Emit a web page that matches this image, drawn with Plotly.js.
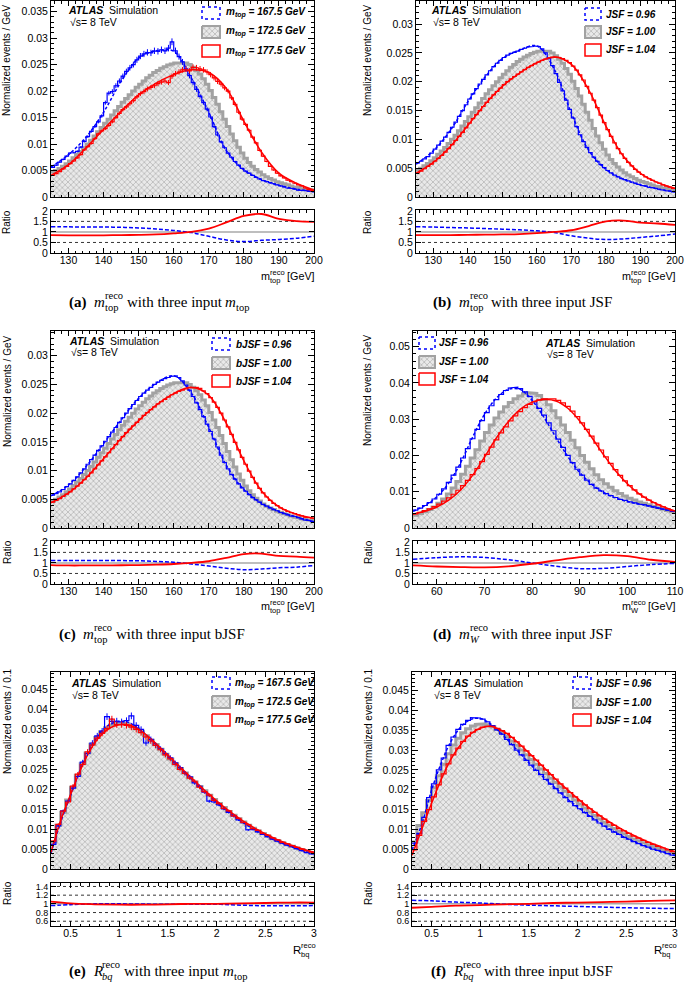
<!DOCTYPE html>
<html><head><meta charset="utf-8">
<script src="https://cdn.plot.ly/plotly-3.0.1.min.js"></script>
<style>html,body{margin:0;padding:0;background:#fff}#chart{width:685px;height:983px}</style>
</head><body><div id="chart"></div>
<script>
// ================= DATA =================
// binning of the histograms
const MTOP_LO = 125, MTOP_W = 1;     // m_top^reco [GeV], 1 GeV bins
const MW_LO = 55, MW_W = 1;          // m_W^reco [GeV], 1 GeV bins
const RBQ_LO = 0.3, RBQ_W = 0.05;    // R_bq^reco

// nominal sample (m_top = 172.5 GeV, JSF = bJSF = 1.00), m_top^reco
const mtopNominal = [
.0047,.0050,.0054,.0058,.0063,.0068,.0074,.0080,.0086,.0093,
.0100,.0107,.0115,.0123,.0131,.0139,.0147,.0155,.0163,.0171,
.0179,.0186,.0193,.0200,.0207,.0213,.0219,.0225,.0230,.0235,
.0239,.0243,.0246,.0249,.0251,.0253,.0254,.0254,.0253,.0250,
.0245,.0239,.0232,.0223,.0213,.0201,.0188,.0175,.0161,.0147,
.0133,.0119,.0106,.0094,.0083,.0073,.0065,.0058,.0052,.0047,
.0042,.0038,.0035,.0032,.0029,.0027,.0025,.0023,.0021,.0019,
.0018,.0016,.0015,.0014,.0013];
// (a) m_top = 167.5 / 177.5 GeV
const mtopA_167 = [
.0056,.0060,.0066,.0071,.0077,.0083,.0084,.0086,.0094,.0105,
.0114,.0124,.0133,.0142,.0153,.0178,.0196,.0199,.0210,.0219,
.0228,.0237,.0244,.0250,.0259,.0266,.0270,.0273,.0272,.0276,
.0275,.0278,.0276,.0281,.0293,.0276,.0265,.0255,.0242,.0229,
.0216,.0203,.0190,.0178,.0166,.0151,.0133,.0117,.0104,.0093,
.0083,.0075,.0067,.0060,.0054,.0049,.0045,.0041,.0037,.0034,
.0031,.0029,.0027,.0025,.0023,.0021,.0019,.0017,.0016,.0015,
.0013,.0012,.0012,.0011,.0010];
const mtopA_177 = [
.0041,.0044,.0048,.0053,.0058,.0063,.0068,.0074,.0080,.0089,
.0095,.0101,.0110,.0119,.0125,.0129,.0135,.0142,.0150,.0158,
.0165,.0170,.0176,.0182,.0189,.0195,.0199,.0204,.0207,.0210,
.0214,.0217,.0219,.0216,.0228,.0233,.0236,.0240,.0241,.0238,
.0245,.0244,.0242,.0240,.0236,.0231,.0225,.0218,.0213,.0206,
.0200,.0187,.0175,.0160,.0147,.0137,.0126,.0113,.0102,.0088,
.0077,.0067,.0058,.0051,.0045,.0040,.0036,.0032,.0029,.0026,
.0023,.0021,.0017,.0014,.0012];
// (b) JSF = 0.96 / 1.04
const mtopB_096 = [
.0059,.0062,.0066,.0070,.0076,.0083,.0090,.0097,.0104,.0112,
.0121,.0130,.0140,.0150,.0160,.0170,.0179,.0188,.0196,.0204,
.0212,.0219,.0226,.0232,.0237,.0242,.0246,.0249,.0251,.0253,
.0256,.0258,.0260,.0261,.0262,.0261,.0257,.0250,.0240,.0228,
.0214,.0199,.0184,.0168,.0152,.0137,.0122,.0108,.0096,.0086,
.0077,.0069,.0062,.0056,.0051,.0046,.0042,.0038,.0035,.0032,
.0030,.0028,.0026,.0024,.0022,.0020,.0019,.0017,.0016,.0015,
.0013,.0012,.0011,.0010,.0009];
const mtopB_104 = [
.0042,.0045,.0049,.0053,.0057,.0062,.0067,.0072,.0078,.0084,
.0091,.0098,.0105,.0112,.0120,.0128,.0136,.0143,.0150,.0157,
.0164,.0171,.0177,.0183,.0189,.0195,.0200,.0205,.0209,.0213,
.0217,.0221,.0225,.0228,.0231,.0234,.0237,.0239,.0241,.0242,
.0243,.0242,.0240,.0237,.0233,.0227,.0220,.0212,.0203,.0192,
.0180,.0168,.0155,.0142,.0129,.0117,.0105,.0094,.0084,.0075,
.0067,.0060,.0054,.0048,.0043,.0039,.0035,.0032,.0029,.0026,
.0024,.0021,.0019,.0017,.0015];
// (c) bJSF = 0.96 / 1.04
const mtopC_096 = [
.0057,.0060,.0063,.0067,.0072,.0077,.0083,.0089,.0096,.0103,
.0111,.0119,.0127,.0135,.0143,.0151,.0159,.0167,.0175,.0184,
.0192,.0200,.0208,.0215,.0222,.0229,.0235,.0240,.0245,.0250,
.0254,.0257,.0260,.0262,.0264,.0265,.0262,.0256,.0249,.0240,
.0229,.0218,.0206,.0194,.0181,.0168,.0155,.0141,.0127,.0114,
.0103,.0093,.0085,.0077,.0070,.0064,.0058,.0053,.0049,.0045,
.0041,.0038,.0035,.0032,.0030,.0027,.0025,.0023,.0021,.0020,
.0018,.0016,.0014,.0013,.0011];
const mtopC_104 = [
.0045,.0048,.0051,.0055,.0059,.0063,.0068,.0073,.0078,.0084,
.0090,.0096,.0103,.0110,.0117,.0124,.0131,.0138,.0145,.0152,
.0159,.0166,.0172,.0178,.0184,.0190,.0196,.0201,.0206,.0211,
.0216,.0220,.0224,.0228,.0232,.0235,.0238,.0240,.0242,.0244,
.0245,.0245,.0243,.0239,.0234,.0227,.0219,.0210,.0200,.0188,
.0176,.0163,.0149,.0136,.0123,.0111,.0099,.0088,.0078,.0069,
.0061,.0054,.0048,.0043,.0039,.0035,.0032,.0029,.0027,.0025,
.0023,.0021,.0019,.0018,.0017];
// (d) m_W^reco, JSF = 1.00 / 0.96 / 1.04
const mwNominal = [
.0035,.0040,.0045,.0051,.0058,.0068,.0080,.0094,.0110,.0128,
.0148,.0170,.0193,.0216,.0240,.0263,.0284,.0303,.0320,.0334,
.0346,.0356,.0364,.0370,.0373,.0371,.0365,.0354,.0340,.0323,
.0304,.0284,.0263,.0242,.0221,.0200,.0181,.0163,.0147,.0133,
.0122,.0112,.0103,.0095,.0088,.0082,.0077,.0072,.0068,.0064,
.0060,.0056,.0052,.0048,.0045];
const mwD_096 = [
.0049,.0055,.0062,.0070,.0080,.0093,.0108,.0126,.0146,.0168,
.0193,.0219,.0246,.0272,.0296,.0318,.0337,.0354,.0368,.0379,
.0386,.0388,.0384,.0375,.0363,.0348,.0330,.0311,.0290,.0268,
.0245,.0222,.0200,.0180,.0162,.0146,.0132,.0120,.0110,.0102,
.0095,.0089,.0084,.0079,.0076,.0072,.0069,.0066,.0064,.0061,
.0058,.0055,.0052,.0049,.0046];
const mwD_104 = [
.0039,.0043,.0048,.0053,.0059,.0066,.0074,.0083,.0093,.0104,
.0117,.0131,.0147,.0164,.0183,.0203,.0223,.0243,.0262,.0279,
.0295,.0309,.0321,.0332,.0341,.0348,.0353,.0356,.0357,.0356,
.0352,.0345,.0335,.0322,.0307,.0290,.0272,.0253,.0234,.0215,
.0196,.0178,.0161,.0145,.0130,.0117,.0105,.0094,.0085,.0077,
.0070,.0064,.0058,.0053,.0048];
// (e),(f) R_bq^reco
const rbqNominal = [
.0068,.0110,.0142,.0173,.0205,.0235,.0264,.0291,.0313,.0330,
.0344,.0354,.0361,.0365,.0366,.0364,.0359,.0352,.0344,.0334,
.0323,.0312,.0300,.0288,.0276,.0264,.0252,.0241,.0229,.0218,
.0207,.0196,.0185,.0174,.0164,.0154,.0144,.0135,.0126,.0118,
.0110,.0102,.0095,.0089,.0082,.0076,.0071,.0066,.0061,.0057,
.0052,.0048,.0045,.0041];
const rbqE_167 = [
.0062,.0108,.0146,.0170,.0203,.0232,.0268,.0290,.0316,.0334,
.0346,.0382,.0370,.0371,.0369,.0372,.0384,.0360,.0350,.0316,
.0325,.0310,.0301,.0289,.0279,.0266,.0254,.0240,.0231,.0216,
.0207,.0193,.0170,.0168,.0161,.0151,.0142,.0133,.0123,.0116,
.0098,.0099,.0093,.0087,.0081,.0075,.0070,.0065,.0060,.0056,
.0051,.0046,.0041,.0038];
const rbqE_177 = [
.0070,.0112,.0145,.0168,.0208,.0238,.0262,.0294,.0311,.0328,
.0340,.0352,.0376,.0362,.0362,.0360,.0356,.0350,.0342,.0331,
.0321,.0310,.0299,.0286,.0276,.0262,.0250,.0240,.0228,.0220,
.0205,.0194,.0185,.0172,.0164,.0152,.0146,.0133,.0127,.0117,
.0111,.0101,.0097,.0089,.0085,.0078,.0073,.0067,.0063,.0058,
.0054,.0050,.0046,.0042];
const rbqF_096 = [
.0065,.0090,.0130,.0180,.0215,.0250,.0280,.0312,.0333,.0352,
.0365,.0375,.0382,.0381,.0378,.0371,.0362,.0351,.0340,.0327,
.0314,.0300,.0288,.0274,.0262,.0249,.0238,.0226,.0214,.0203,
.0192,.0180,.0170,.0160,.0152,.0142,.0133,.0124,.0116,.0108,
.0100,.0093,.0087,.0080,.0075,.0069,.0064,.0059,.0055,.0050,
.0047,.0043,.0039,.0035];
const rbqF_104 = [
.0048,.0085,.0120,.0150,.0182,.0212,.0240,.0265,.0288,.0305,
.0322,.0335,.0345,.0352,.0358,.0360,.0360,.0355,.0349,.0342,
.0332,.0321,.0310,.0298,.0286,.0275,.0262,.0250,.0238,.0227,
.0215,.0204,.0193,.0182,.0172,.0162,.0152,.0143,.0134,.0126,
.0117,.0110,.0102,.0096,.0090,.0083,.0078,.0072,.0067,.0062,
.0057,.0053,.0048,.0044];

// fitted templates
const mtopGrid = [125,130,135,140,145,150,155,160,165,170,175,180,185,190,195,200];
const fitA_167 = [.0057,.0080,.0113,.0160,.0218,.0262,.0276,.0275,.0225,.0160,.0088,.0051,.0033,.0022,.0015,.0010];
const fitA_177 = [.0041,.0061,.0093,.0128,.0162,.0193,.0215,.0231,.0240,.0235,.0205,.0143,.0085,.0045,.0026,.0013];
const fitB_096 = [.0057,.0080,.0116,.0165,.0208,.0240,.0255,.0262,.0222,.0145,.0081,.0048,.0031,.0021,.0014,.0009];
const fitB_104 = [.0041,.0060,.0088,.0124,.0161,.0192,.0215,.0233,.0243,.0230,.0186,.0123,.0071,.0041,.0025,.0015];
const fitC_096 = [.0056,.0075,.0107,.0147,.0188,.0226,.0252,.0265,.0235,.0175,.0109,.0067,.0043,.0029,.0019,.0011];
const fitC_104 = [.0044,.0061,.0087,.0121,.0156,.0187,.0214,.0234,.0245,.0231,.0182,.0117,.0065,.0037,.0024,.0017];
const mwFitGrid = [55,57.5,60,62.5,65,67.5,70,72.5,75,77.5,80,82.5,85,87.5,90,92.5,95,97.5,100,102.5,105,107.5,110];
const fitD_096 = [.0046,.0062,.0086,.0124,.0180,.0250,.0313,.0358,.0382,.0382,.0352,.0305,.0250,.0197,.0153,.0121,.0098,.0083,.0073,.0066,.0059,.0052,.0045];
const fitD_104 = [.0038,.0046,.0058,.0077,.0105,.0145,.0195,.0248,.0293,.0327,.0347,.0354,.0350,.0330,.0295,.0250,.0202,.0158,.0122,.0094,.0074,.0059,.0047];
const rbqFitGrid = [0.3,0.4,0.5,0.6,0.7,0.8,0.9,1.0,1.1,1.2,1.3,1.4,1.5,1.6,1.7,1.8,1.9,2.0,2.1,2.2,2.3,2.4,2.5,2.6,2.7,2.8,2.9,3.0];
const fitE_167 = [.0040,.0118,.0184,.0249,.0302,.0340,.0362,.0370,.0367,.0352,.0331,.0307,.0283,.0259,.0235,.0211,.0189,.0167,.0147,.0129,.0112,.0097,.0084,.0072,.0062,.0053,.0045,.0038];
const fitE_177 = [.0042,.0122,.0186,.0247,.0297,.0332,.0353,.0362,.0361,.0350,.0332,.0309,.0286,.0262,.0238,.0215,.0192,.0171,.0151,.0133,.0116,.0101,.0088,.0076,.0066,.0057,.0049,.0042];
const fitF_096 = [.0048,.0112,.0198,.0267,.0322,.0358,.0377,.0380,.0367,.0346,.0321,.0294,.0268,.0243,.0220,.0198,.0176,.0156,.0138,.0121,.0105,.0091,.0078,.0067,.0057,.0048,.0041,.0034];
const fitF_104 = [.0035,.0100,.0165,.0226,.0277,.0314,.0340,.0355,.0360,.0352,.0337,.0316,.0293,.0269,.0245,.0221,.0199,.0178,.0158,.0140,.0123,.0108,.0094,.0082,.0071,.0061,.0052,.0044];

// ratios to the nominal template
const ratioA_167 = [1.25,1.24,1.23,1.23,1.22,1.19,1.14,1.07,0.97,0.79,0.62,0.54,0.60,0.64,0.70,0.80];
const ratioA_177 = [0.85,0.84,0.84,0.84,0.85,0.86,0.88,0.93,1.00,1.16,1.45,1.76,1.85,1.62,1.51,1.48];
const ratioB_096 = [1.25,1.23,1.21,1.19,1.16,1.13,1.10,1.05,0.97,0.82,0.70,0.64,0.67,0.74,0.81,0.90];
const ratioB_104 = [0.85,0.85,0.85,0.86,0.87,0.88,0.90,0.94,1.00,1.08,1.28,1.50,1.54,1.44,1.40,1.33];
const ratioC_096 = [1.12,1.12,1.12,1.12,1.11,1.10,1.07,1.03,0.95,0.85,0.75,0.68,0.71,0.77,0.80,0.88];
const ratioC_104 = [0.90,0.88,0.88,0.88,0.89,0.90,0.92,0.95,1.00,1.08,1.24,1.42,1.44,1.33,1.30,1.25];
const mwRatioGrid = [55,60,65,70,75,80,85,90,95,100,105,110];
const ratioD_096 = [1.17,1.25,1.29,1.26,1.15,1.00,0.84,0.73,0.74,0.83,0.92,0.98];
const ratioD_104 = [0.88,0.83,0.80,0.79,0.84,0.96,1.12,1.27,1.37,1.32,1.15,1.05];
const rbqRatioGrid = [0.3,0.5,0.75,1.0,1.25,1.5,1.75,2.0,2.25,2.5,2.75,3.0];
const ratioE_167 = [0.96,0.98,1.00,1.00,0.995,0.99,0.99,0.99,0.97,0.955,0.955,0.96];
const ratioE_177 = [1.05,1.01,0.99,0.98,0.98,0.99,1.00,1.00,1.01,1.02,1.03,1.03];
const ratioF_096 = [1.08,1.07,1.04,1.02,0.99,0.97,0.955,0.94,0.925,0.91,0.90,0.89];
const ratioF_104 = [0.91,0.93,0.96,0.97,0.99,1.00,1.02,1.03,1.04,1.05,1.07,1.08];

// legend labels
const labelsMtop = ['m<sub>top</sub> = 167.5 GeV','m<sub>top</sub> = 172.5 GeV','m<sub>top</sub> = 177.5 GeV'];
const labelsJSF  = ['JSF = 0.96','JSF = 1.00','JSF = 1.04'];
const labelsBJSF = ['bJSF = 0.96','bJSF = 1.00','bJSF = 1.04'];

// ================= STYLE / LAYOUT =================
const W = 685, H = 983;
const F = "'Liberation Sans', Arial, Helvetica, sans-serif";
const FS = "'Liberation Serif', 'Times New Roman', serif";
const BLUE = '#0000ff', RED = '#ff0000', GRAY = '#a2a2a2';
const px = v => v / W, py = v => 1 - v / H;
const PATTERN = {shape:'x', size:4, solidity:0.28, fgcolor:'#a8a8a8', bgcolor:'#e9e9e9'};

const panels = [
 {x:[51,314], y:[1,197], ry:[210,253], xr:[125,200], yr:[0,0.037], rr:[0,2.04], rfs:10.5,
  lo:MTOP_LO, w:MTOP_W, nom:mtopNominal, sLo:mtopA_167, sHi:mtopA_177,
  fx:mtopGrid, fLo:fitA_167, fHi:fitA_177, rx:mtopGrid, rLo:ratioA_167, rHi:ratioA_177,
  err:true, xd:10, xm:2, yd:0.005, ym:0.001, rt:[0,0.5,1,1.5,2], rg:[0.5,1.5],
  atlas:[67,10], sq:[69,22], leg:{bx:[202,220], tx:225, ys:[13,32,51]}, labels:labelsMtop,
  yt:[7,61,'Normalized events / GeV'], rtl:[7,222], xt:{r:314,y:276,kind:'mtop'},
  cap:{x:68,y:302,letter:'a',kind:'mtop',tail:'mtop'}},
 {x:[416,675], y:[1,197], ry:[210,253], xr:[125,200], yr:[0,0.034], rr:[0,2.04], rfs:10.5,
  lo:MTOP_LO, w:MTOP_W, nom:mtopNominal, sLo:mtopB_096, sHi:mtopB_104,
  fx:mtopGrid, fLo:fitB_096, fHi:fitB_104, rx:mtopGrid, rLo:ratioB_096, rHi:ratioB_104,
  err:false, xd:10, xm:2, yd:0.005, ym:0.001, rt:[0,0.5,1,1.5,2], rg:[0.5,1.5],
  atlas:[430,10], sq:[432,22], leg:{bx:[585,601], tx:605, ys:[14,32,50]}, labels:labelsJSF,
  yt:[368,61,'Normalized events / GeV'], rtl:[368,222], xt:{r:675,y:276,kind:'mtop'},
  cap:{x:432,y:302,letter:'b',kind:'mtop',tail:'JSF'}},
 {x:[51,314], y:[331,528], ry:[541,584], xr:[125,200], yr:[0,0.0343], rr:[0,2.04], rfs:10.5,
  lo:MTOP_LO, w:MTOP_W, nom:mtopNominal, sLo:mtopC_096, sHi:mtopC_104,
  fx:mtopGrid, fLo:fitC_096, fHi:fitC_104, rx:mtopGrid, rLo:ratioC_096, rHi:ratioC_104,
  err:false, xd:10, xm:2, yd:0.005, ym:0.001, rt:[0,0.5,1,1.5,2], rg:[0.5,1.5],
  atlas:[68,341], sq:[70,352], leg:{bx:[212,230], tx:235, ys:[344,363,381]}, labels:labelsBJSF,
  yt:[7,392,'Normalized events / GeV'], rtl:[7,552], xt:{r:314,y:606,kind:'mtop'},
  cap:{x:58,y:634,letter:'c',kind:'mtop',tail:'bJSF'}},
 {x:[413,675], y:[331,528], ry:[541,584], xr:[55,110], yr:[0,0.0543], rr:[0,2.04], rfs:10.5,
  lo:MW_LO, w:MW_W, nom:mwNominal, sLo:mwD_096, sHi:mwD_104,
  fx:mwFitGrid, fLo:fitD_096, fHi:fitD_104, rx:mwRatioGrid, rLo:ratioD_096, rHi:ratioD_104,
  err:false, xd:10, xm:2, yd:0.01, ym:0.002, rt:[0,0.5,1,1.5,2], rg:[0.5,1.5],
  atlas:[544,343], sq:[546,354], leg:{bx:[419,435], tx:438, ys:[343,362,379]}, labels:labelsJSF,
  yt:[368,391,'Normalized events / GeV'], rtl:[368,552], xt:{r:675,y:606,kind:'mw'},
  cap:{x:432,y:634,letter:'d',kind:'mw',tail:'JSF'}},
 {x:[51,314], y:[672,869], ry:[883,926], xr:[0.3,3.0], yr:[0,0.0494], rr:[0.49,1.48], rfs:9,
  lo:RBQ_LO, w:RBQ_W, nom:rbqNominal, sLo:rbqE_167, sHi:rbqE_177,
  fx:rbqFitGrid, fLo:fitE_167, fHi:fitE_177, rx:rbqRatioGrid, rLo:ratioE_167, rHi:ratioE_177,
  err:true, xd:0.5, xm:0.1, yd:0.005, ym:0.001, rt:[0.6,0.8,1,1.2,1.4], rg:[0.6,0.8,1.2,1.4],
  atlas:[70,683], sq:[71,695], leg:{bx:[212,230], tx:234, ys:[683,702,720]}, labels:labelsMtop,
  yt:[7,722,'Normalized events / 0.1'], rtl:[7,893], xt:{r:315,y:950,kind:'rbq'},
  cap:{x:68,y:971,letter:'e',kind:'rbq',tail:'mtop'}},
 {x:[412,675], y:[672,869], ry:[883,926], xr:[0.3,3.0], yr:[0,0.0497], rr:[0.49,1.48], rfs:9,
  lo:RBQ_LO, w:RBQ_W, nom:rbqNominal, sLo:rbqF_096, sHi:rbqF_104,
  fx:rbqFitGrid, fLo:fitF_096, fHi:fitF_104, rx:rbqRatioGrid, rLo:ratioF_096, rHi:ratioF_104,
  err:false, xd:0.5, xm:0.1, yd:0.005, ym:0.001, rt:[0.6,0.8,1,1.2,1.4], rg:[0.6,0.8,1.2,1.4],
  atlas:[432,683], sq:[433,695], leg:{bx:[573,591], tx:595, ys:[683,702,720]}, labels:labelsBJSF,
  yt:[368,722,'Normalized events / 0.1'], rtl:[368,893], xt:{r:676,y:950,kind:'rbq'},
  cap:{x:430,y:971,letter:'f',kind:'rbq',tail:'bJSF'}}
];

function stepXY(lo, w, vals){
  const xs = [], ys = [];
  vals.forEach((v,i) => { xs.push(lo + i*w, lo + (i+1)*w); ys.push(v, v); });
  return {xs, ys};
}
function centers(lo, w, n){ return Array.from({length:n}, (_,i) => lo + (i+0.5)*w); }
const nm = (c,i) => c + (i===1 ? '' : i);
const lk = (c,i) => c + 'axis' + (i===1 ? '' : i);

const traces = [];
const layout = {
  width:W, height:H, margin:{l:0,r:0,t:0,b:0}, paper_bgcolor:'#fff', plot_bgcolor:'rgba(0,0,0,0)',
  showlegend:false, shapes:[], annotations:[], font:{family:F, size:10.5, color:'#000'}
};
const axBase = {showline:true, linecolor:'#000', linewidth:1, mirror:'allticks', ticks:'inside',
  tickcolor:'#000', tickwidth:1, showgrid:false, zeroline:false, fixedrange:true,
  tickfont:{family:F, size:10.5, color:'#000'}};

// text helpers
const cv = document.createElement('canvas').getContext('2d');
function tw(t, s){ cv.font = (s.i?'italic ':'') + (s.b?'bold ':'') + s.size + 'px ' + s.fam; return cv.measureText(t).width; }
function ann(t, x, y, s, extra){
  const txt = (s.b?'<b>':'') + (s.i?'<i>':'') + t + (s.i?'</i>':'') + (s.b?'</b>':'');
  layout.annotations.push(Object.assign({xref:'paper', yref:'paper', x:px(x), y:py(y), xanchor:'left', yanchor:'middle',
    showarrow:false, borderpad:0, text:txt, font:{family:s.fam, size:s.size, color:'#000'}}, extra||{}));
}
function rich(segs, x, y, align){
  const ws = segs.map(s => s.sp ? tw(' ', s) : (s.up !== undefined ? Math.max(tw(s.up, s), tw(s.dn, Object.assign({}, s, {i:s.dnI}))) : tw(s.t, s)));
  const total = ws.reduce((a,b) => a+b, 0);
  let cx = align === 'right' ? x - total : x;
  segs.forEach((s,k) => {
    if (s.up !== undefined) { ann(s.up, cx, y + s.upDy, s); ann(s.dn, cx, y + s.dnDy, Object.assign({}, s, {i:s.dnI})); }
    else if (!s.sp) ann(s.t, cx, y + (s.dy||0), s);
    cx += ws[k];
  });
}
function xTitleSegs(kind){
  const big = {fam:F, size:10.8}, sm = {fam:F, size:7.5};
  if (kind === 'rbq') return [Object.assign({t:'R'}, big, {size:11.5}), Object.assign({up:'reco', dn:'bq', upDy:-4.5, dnDy:4.5}, sm)];
  return [Object.assign({t:'m'}, big), Object.assign({up:'reco', dn: kind==='mw' ? 'W' : 'top', upDy:-4, dnDy:4}, sm),
          Object.assign({sp:1}, big), Object.assign({t:'[GeV]'}, big)];
}
function capSegs(c){
  const big = {fam:FS, size:15}, sm = {fam:FS, size:10.5};
  const segs = [Object.assign({t:'('+c.letter+')', b:1}, big), Object.assign({sp:1}, big), Object.assign({sp:1}, big)];
  if (c.kind === 'rbq') segs.push(Object.assign({t:'R', i:1}, big), Object.assign({up:'reco', dn:'bq', dnI:1, upDy:-6.5, dnDy:5.5}, sm));
  else segs.push(Object.assign({t:'m', i:1}, big), Object.assign({up:'reco', dn: c.kind==='mw' ? 'W' : 'top', dnI: c.kind==='mw', upDy:-6.5, dnDy:5.5}, sm));
  segs.push(Object.assign({sp:1}, big));
  if (c.tail === 'mtop') segs.push(Object.assign({t:'with three input'}, big), Object.assign({sp:1}, big),
                                   Object.assign({t:'m', i:1}, big), Object.assign({t:'top', dy:5}, sm));
  else segs.push(Object.assign({t:'with three input ' + c.tail}, big));
  return segs;
}

// overlay axes for legend boxes (full page, pixel units)
layout.xaxis13 = {domain:[0,1], range:[0,W], visible:false, fixedrange:true, anchor:'y13'};
layout.yaxis13 = {domain:[0,1], range:[H,0], visible:false, fixedrange:true, anchor:'x13'};
const legendTraces = [];

panels.forEach((p,k) => {
  const m = 2*k + 1, r = 2*k + 2;
  const xdom = [px(p.x[0]), px(p.x[1])];
  layout[lk('x',m)] = Object.assign({}, axBase, {domain:xdom, range:p.xr, anchor:nm('y',m), dtick:p.xd, tick0:0,
    showticklabels:false, ticklen:5, minor:{dtick:p.xm, tick0:0, ticks:'inside', ticklen:2.5, tickcolor:'#000'}});
  layout[lk('y',m)] = Object.assign({}, axBase, {domain:[py(p.y[1]), py(p.y[0])], range:p.yr, anchor:nm('x',m),
    dtick:p.yd, tick0:0, ticklen:6, minor:{dtick:p.ym, tick0:0, ticks:'inside', ticklen:3, tickcolor:'#000'}});
  layout[lk('x',r)] = Object.assign({}, axBase, {domain:xdom, range:p.xr, anchor:nm('y',r), dtick:p.xd, tick0:0,
    showticklabels:true, ticklen:5, ticklabelstandoff:-3, minor:{dtick:p.xm, tick0:0, ticks:'inside', ticklen:2.5, tickcolor:'#000'}});
  layout[lk('y',r)] = Object.assign({}, axBase, {domain:[py(p.ry[1]), py(p.ry[0])], range:p.rr, anchor:nm('x',r),
    tickmode:'array', tickvals:p.rt, ticklen:5, tickfont:{family:F, size:p.rfs, color:'#000'}});

  const xa = nm('x',m), ya = nm('y',m), xr = nm('x',r), yr = nm('y',r);
  const g = stepXY(p.lo, p.w, p.nom), b = stepXY(p.lo, p.w, p.sLo), rd = stepXY(p.lo, p.w, p.sHi);
  traces.push({x:g.xs, y:g.ys, xaxis:xa, yaxis:ya, mode:'lines', line:{color:GRAY, width:3},
    fill:'tozeroy', fillcolor:'#e9e9e9', fillpattern:PATTERN, hoverinfo:'skip'});
  traces.push({x:b.xs, y:b.ys, xaxis:xa, yaxis:ya, mode:'lines', line:{color:BLUE, width:1.2}, hoverinfo:'skip'});
  traces.push({x:p.fx, y:p.fLo, xaxis:xa, yaxis:ya, mode:'lines', line:{color:BLUE, width:1.5, dash:'3px,2px', shape:'spline', smoothing:1}, hoverinfo:'skip'});
  traces.push({x:rd.xs, y:rd.ys, xaxis:xa, yaxis:ya, mode:'lines', line:{color:RED, width:1.2}, hoverinfo:'skip'});
  traces.push({x:p.fx, y:p.fHi, xaxis:xa, yaxis:ya, mode:'lines', line:{color:RED, width:1.5, shape:'spline', smoothing:1}, hoverinfo:'skip'});
  if (p.err) {
    const c = centers(p.lo, p.w, p.nom.length);
    traces.push({x:c, y:p.sLo, xaxis:xa, yaxis:ya, mode:'markers', marker:{size:1, color:BLUE},
      error_y:{type:'percent', value:2.2, color:BLUE, thickness:1, width:0}, hoverinfo:'skip'});
    traces.push({x:c, y:p.sHi, xaxis:xa, yaxis:ya, mode:'markers', marker:{size:1, color:RED},
      error_y:{type:'percent', value:2.2, color:RED, thickness:1, width:0}, hoverinfo:'skip'});
  }
  // ratio
  layout.shapes.push({type:'line', xref:xr+' domain', yref:yr, x0:0, x1:1, y0:1, y1:1, layer:'below', line:{color:'#a8a8a8', width:1.5}});
  p.rg.forEach(v => layout.shapes.push({type:'line', xref:xr+' domain', yref:yr, x0:0, x1:1, y0:v, y1:v, layer:'below', line:{color:'#000', width:0.8, dash:'dot'}}));
  traces.push({x:p.rx, y:p.rLo, xaxis:xr, yaxis:yr, mode:'lines', line:{color:BLUE, width:1.5, dash:'4px,2px', shape:'spline', smoothing:1}, hoverinfo:'skip'});
  traces.push({x:p.rx, y:p.rHi, xaxis:xr, yaxis:yr, mode:'lines', line:{color:RED, width:1.8, shape:'spline', smoothing:1}, hoverinfo:'skip'});

  // legend boxes
  const [x0,x1] = p.leg.bx;
  const box = yc => ({x:[x0,x1,x1,x0,x0], y:[yc-6,yc-6,yc+6,yc+6,yc-6]});
  legendTraces.push(Object.assign(box(p.leg.ys[0]), {mode:'lines', fill:'toself', fillcolor:'#fff', line:{color:BLUE, width:1.5, dash:'dot'}}));
  legendTraces.push(Object.assign(box(p.leg.ys[1]), {mode:'lines', fill:'toself', fillcolor:'#e9e9e9', fillpattern:PATTERN, line:{color:GRAY, width:2}}));
  legendTraces.push(Object.assign(box(p.leg.ys[2]), {mode:'lines', fill:'toself', fillcolor:'#fff', line:{color:RED, width:1.5}}));
  p.labels.forEach((t,i) => ann(t, p.leg.tx, p.leg.ys[i], {fam:F, size:10, b:1, i:1}));

  // ATLAS label
  ann('<b><i>ATLAS</i></b>\u00a0\u00a0Simulation', p.atlas[0], p.atlas[1], {fam:F, size:10.5});
  ann('\u221as= 8 TeV', p.sq[0], p.sq[1], {fam:F, size:10.5});

  // axis titles
  ann(p.yt[2], p.yt[0], p.yt[1], {fam:F, size:10}, {textangle:-90, xanchor:'center'});
  ann('Ratio', p.rtl[0], p.rtl[1], {fam:F, size:10}, {textangle:-90, xanchor:'center'});
  rich(xTitleSegs(p.xt.kind), p.xt.r, p.xt.y, 'right');
  rich(capSegs(p.cap), p.cap.x, p.cap.y, 'left');
});
legendTraces.forEach(t => traces.push(Object.assign(t, {xaxis:'x13', yaxis:'y13', hoverinfo:'skip'})));

Plotly.newPlot('chart', traces, layout, {displayModeBar:false, staticPlot:true});
</script>
</body></html>
